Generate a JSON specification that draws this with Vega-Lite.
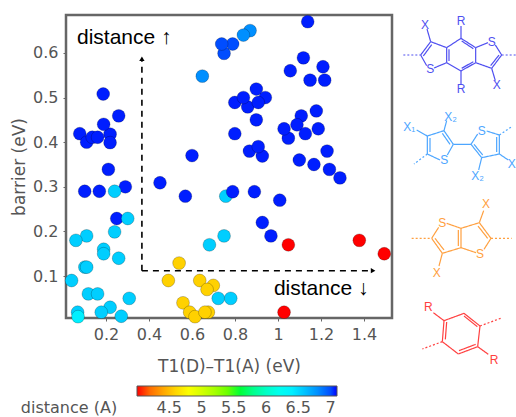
{"$schema":"https://vega.github.io/schema/vega-lite/v6.json","width":326,"height":303,"autosize":"none","padding":{"left":66,"top":15,"right":124,"bottom":99},"background":"white","config":{"view":{"stroke":"#666666","strokeWidth":2.5},"font":"DejaVu Sans"},"datasets":{"points":[{"x":0.101,"y":0.29,"d":7.08},{"x":0.169,"y":0.29,"d":7.08},{"x":0.29,"y":0.3,"d":7.08},{"x":0.25,"y":0.229,"d":7.08},{"x":0.187,"y":0.508,"d":7.08},{"x":0.078,"y":0.419,"d":7.08},{"x":0.11,"y":0.4,"d":7.08},{"x":0.219,"y":0.418,"d":7.08},{"x":0.219,"y":0.399,"d":7.08},{"x":0.136,"y":0.411,"d":7.08},{"x":0.161,"y":0.411,"d":7.08},{"x":0.189,"y":0.44,"d":7.08},{"x":0.259,"y":0.459,"d":7.08},{"x":0.211,"y":0.339,"d":7.08},{"x":0.24,"y":0.29,"d":6.55},{"x":0.301,"y":0.229,"d":6.55},{"x":0.24,"y":0.199,"d":6.55},{"x":0.11,"y":0.19,"d":6.55},{"x":0.06,"y":0.18,"d":6.55},{"x":0.189,"y":0.16,"d":6.55},{"x":0.189,"y":0.15,"d":6.55},{"x":0.259,"y":0.14,"d":6.55},{"x":0.102,"y":0.12,"d":6.55},{"x":0.11,"y":0.12,"d":6.55},{"x":0.04,"y":0.09,"d":6.55},{"x":0.118,"y":0.06,"d":6.55},{"x":0.161,"y":0.06,"d":6.55},{"x":0.308,"y":0.05,"d":6.55},{"x":0.219,"y":0.03,"d":6.55},{"x":0.178,"y":0.019,"d":6.55},{"x":0.068,"y":0.019,"d":6.55},{"x":0.07,"y":0.009,"d":6.4},{"x":0.271,"y":0.01,"d":6.55},{"x":0.54,"y":0.129,"d":4.58},{"x":0.49,"y":0.09,"d":4.58},{"x":0.558,"y":0.04,"d":4.58},{"x":0.589,"y":0.019,"d":4.58},{"x":0.614,"y":0.009,"d":4.58},{"x":0.676,"y":0.019,"d":4.58},{"x":0.66,"y":0.019,"d":4.58},{"x":0.636,"y":0.09,"d":4.58},{"x":0.699,"y":0.079,"d":4.58},{"x":0.67,"y":0.07,"d":4.58},{"x":0.722,"y":0.05,"d":6.55},{"x":0.78,"y":0.05,"d":6.55},{"x":0.681,"y":0.17,"d":6.55},{"x":0.749,"y":0.19,"d":6.55},{"x":0.757,"y":0.279,"d":6.55},{"x":0.789,"y":0.289,"d":7.08},{"x":0.89,"y":0.289,"d":7.08},{"x":1.008,"y":0.27,"d":7.08},{"x":0.927,"y":0.22,"d":7.08},{"x":0.967,"y":0.19,"d":7.08},{"x":1.048,"y":0.17,"d":4.0},{"x":1.378,"y":0.18,"d":4.0},{"x":1.494,"y":0.15,"d":4.0},{"x":1.028,"y":0.019,"d":4.0},{"x":0.451,"y":0.309,"d":7.08},{"x":0.569,"y":0.279,"d":7.08},{"x":0.6,"y":0.37,"d":7.08},{"x":0.648,"y":0.548,"d":6.8},{"x":0.749,"y":0.599,"d":7.0},{"x":0.789,"y":0.62,"d":7.0},{"x":0.738,"y":0.62,"d":7.0},{"x":0.87,"y":0.65,"d":6.8},{"x":0.839,"y":0.64,"d":6.8},{"x":1.138,"y":0.67,"d":7.08},{"x":1.118,"y":0.589,"d":7.08},{"x":1.057,"y":0.56,"d":7.08},{"x":1.209,"y":0.569,"d":7.08},{"x":1.149,"y":0.539,"d":7.08},{"x":1.217,"y":0.539,"d":7.08},{"x":0.899,"y":0.519,"d":7.08},{"x":0.941,"y":0.5,"d":7.08},{"x":0.799,"y":0.489,"d":7.08},{"x":0.859,"y":0.479,"d":7.08},{"x":0.839,"y":0.5,"d":7.08},{"x":0.908,"y":0.489,"d":7.08},{"x":0.899,"y":0.45,"d":7.08},{"x":0.799,"y":0.419,"d":7.08},{"x":1.178,"y":0.47,"d":7.08},{"x":1.108,"y":0.459,"d":7.08},{"x":1.048,"y":0.409,"d":7.08},{"x":1.028,"y":0.43,"d":7.08},{"x":1.088,"y":0.439,"d":7.08},{"x":1.187,"y":0.43,"d":7.08},{"x":1.127,"y":0.419,"d":7.08},{"x":0.927,"y":0.369,"d":7.08},{"x":0.867,"y":0.38,"d":7.08},{"x":0.908,"y":0.39,"d":7.08},{"x":1.228,"y":0.38,"d":7.08},{"x":1.099,"y":0.36,"d":7.08},{"x":1.167,"y":0.35,"d":7.08},{"x":1.239,"y":0.339,"d":7.08},{"x":1.288,"y":0.32,"d":7.08}]},"layer":[{"layer":[{"data":{"values":[{"x":0.367,"y":0.112,"x2":0.367,"y2":0.587},{"x":0.367,"y":0.112,"x2":1.442,"y2":0.112}]},"mark":{"type":"rule","color":"black","strokeWidth":1.6,"strokeDash":[6,5]},"encoding":{"x":{"field":"x","type":"quantitative","scale":{"domain":[0.014,1.53],"nice":false,"zero":false},"axis":{"values":[0.2,0.4,0.6,0.8,1,1.2,1.4],"format":"~g","grid":false,"domain":false,"tickColor":"#666666","tickSize":3,"labelFontSize":16,"labelColor":"#555555","labelFont":"DejaVu Sans","labelPadding":5,"title":"T1(D)–T1(A) (eV)","titleFontSize":17,"titleFontWeight":"normal","titleColor":"#555555","titleFont":"DejaVu Sans","titlePadding":16}},"x2":{"field":"x2"},"y":{"field":"y","type":"quantitative","scale":{"domain":[0.006,0.685],"nice":false,"zero":false},"axis":{"values":[0.1,0.2,0.3,0.4,0.5,0.6],"format":"~g","grid":false,"domain":false,"tickColor":"#666666","tickSize":3,"labelFontSize":16,"labelColor":"#555555","labelFont":"DejaVu Sans","labelPadding":5,"title":"barrier (eV)","titleFontSize":17,"titleFontWeight":"normal","titleColor":"#555555","titleFont":"DejaVu Sans","titlePadding":4}},"y2":{"field":"y2"}}},{"data":{"values":[{"x":0.367,"y":0.587,"s":"triangle-up"},{"x":1.442,"y":0.112,"s":"triangle-right"}]},"mark":{"type":"point","filled":true,"color":"black","size":28,"opacity":1},"encoding":{"x":{"field":"x","type":"quantitative"},"y":{"field":"y","type":"quantitative"},"shape":{"field":"s","type":"nominal","scale":null}}},{"data":{"name":"points"},"mark":{"type":"circle","size":165,"opacity":1,"stroke":"#000000","strokeOpacity":0.22,"strokeWidth":1},"encoding":{"x":{"field":"x","type":"quantitative"},"y":{"field":"y","type":"quantitative"},"color":{"field":"d","type":"quantitative","scale":{"domain":[4,7.1],"range":["#ff0000","#ffff00","#00ff00","#00ffff","#0000ff"]},"legend":{"orient":"none","legendX":71,"legendY":371,"direction":"horizontal","gradientLength":200,"gradientThickness":10,"gradientStrokeColor":"#555555","gradientStrokeWidth":1,"values":[4.5,5,5.5,6,6.5,7],"labelExpr":"datum.value + ''","labelFontSize":16,"labelColor":"#555555","labelFont":"DejaVu Sans","labelOverlap":false,"labelOffset":4,"title":null}}}},{"data":{"values":[{"x":0.065,"y":0.634,"t":"distance ↑"},{"x":0.981,"y":0.071,"t":"distance ↓"}]},"mark":{"type":"text","font":"Liberation Sans","fontSize":21,"align":"left","baseline":"middle","color":"black"},"encoding":{"x":{"field":"x","type":"quantitative"},"y":{"field":"y","type":"quantitative"},"text":{"field":"t"}}}]},{"layer":[{"data":{"values":[{"m":"a","k":"dot","u":40,"v":165,"u2":92,"v2":165},{"m":"a","k":"dot","u":335,"v":165,"u2":380,"v2":165},{"m":"a","k":"bond","u":92,"v":165,"u2":122,"v2":125},{"m":"a","k":"bond","u":100,"v":168,"u2":125,"v2":134},{"m":"a","k":"bond","u":122,"v":125,"u2":170,"v2":143},{"m":"a","k":"bond","u":170,"v":143,"u2":170,"v2":188},{"m":"a","k":"bond","u":177,"v":148,"u2":177,"v2":183},{"m":"a","k":"bond","u":170,"v":188,"u2":132,"v2":204},{"m":"a","k":"bond","u":110,"v":197,"u2":92,"v2":165},{"m":"a","k":"bond","u":170,"v":143,"u2":213,"v2":115},{"m":"a","k":"bond","u":213,"v":115,"u2":257,"v2":143},{"m":"a","k":"bond","u":215,"v":123,"u2":250,"v2":146},{"m":"a","k":"bond","u":257,"v":143,"u2":257,"v2":188},{"m":"a","k":"bond","u":257,"v":188,"u2":213,"v2":213},{"m":"a","k":"bond","u":250,"v":185,"u2":215,"v2":205},{"m":"a","k":"bond","u":213,"v":213,"u2":170,"v2":188},{"m":"a","k":"bond","u":257,"v":143,"u2":294,"v2":128},{"m":"a","k":"bond","u":316,"v":135,"u2":335,"v2":165},{"m":"a","k":"bond","u":335,"v":165,"u2":305,"v2":205},{"m":"a","k":"bond","u":327,"v":165,"u2":302,"v2":197},{"m":"a","k":"bond","u":305,"v":205,"u2":257,"v2":188},{"m":"a","k":"bond","u":122,"v":125,"u2":111,"v2":87},{"m":"a","k":"bond","u":213,"v":115,"u2":213,"v2":78},{"m":"a","k":"bond","u":213,"v":213,"u2":213,"v2":252},{"m":"a","k":"bond","u":305,"v":205,"u2":316,"v2":242},{"m":"b","k":"dot","u":112,"v":462,"u2":72,"v2":492},{"m":"b","k":"dot","u":328,"v":405,"u2":368,"v2":378},{"m":"b","k":"bond","u":112,"v":408,"u2":162,"v2":392},{"m":"b","k":"bond","u":162,"v":392,"u2":190,"v2":433},{"m":"b","k":"bond","u":157,"v":400,"u2":180,"v2":433},{"m":"b","k":"bond","u":190,"v":433,"u2":172,"v2":465},{"m":"b","k":"bond","u":150,"v":480,"u2":112,"v2":462},{"m":"b","k":"bond","u":112,"v":462,"u2":112,"v2":408},{"m":"b","k":"bond","u":120,"v":456,"u2":120,"v2":414},{"m":"b","k":"bond","u":190,"v":433,"u2":243,"v2":433},{"m":"b","k":"bond","u":243,"v":433,"u2":263,"v2":402},{"m":"b","k":"bond","u":290,"v":393,"u2":328,"v2":405},{"m":"b","k":"bond","u":328,"v":405,"u2":328,"v2":462},{"m":"b","k":"bond","u":320,"v":411,"u2":320,"v2":456},{"m":"b","k":"bond","u":328,"v":462,"u2":275,"v2":473},{"m":"b","k":"bond","u":275,"v":473,"u2":243,"v2":433},{"m":"b","k":"bond","u":278,"v":465,"u2":252,"v2":433},{"m":"b","k":"bond","u":80,"v":390,"u2":112,"v2":408},{"m":"b","k":"bond","u":170,"v":362,"u2":162,"v2":392},{"m":"b","k":"bond","u":328,"v":462,"u2":355,"v2":480},{"m":"b","k":"bond","u":275,"v":473,"u2":266,"v2":510},{"m":"c","k":"dot","u":65,"v":715,"u2":125,"v2":715},{"m":"c","k":"dot","u":303,"v":715,"u2":365,"v2":715},{"m":"c","k":"bond","u":125,"v":715,"u2":146,"v2":682},{"m":"c","k":"bond","u":170,"v":670,"u2":213,"v2":685},{"m":"c","k":"bond","u":213,"v":685,"u2":213,"v2":743},{"m":"c","k":"bond","u":205,"v":690,"u2":205,"v2":738},{"m":"c","k":"bond","u":213,"v":743,"u2":157,"v2":760},{"m":"c","k":"bond","u":157,"v":760,"u2":125,"v2":715},{"m":"c","k":"bond","u":162,"v":750,"u2":135,"v2":715},{"m":"c","k":"bond","u":213,"v":685,"u2":268,"v2":668},{"m":"c","k":"bond","u":268,"v":668,"u2":303,"v2":715},{"m":"c","k":"bond","u":264,"v":678,"u2":293,"v2":715},{"m":"c","k":"bond","u":303,"v":715,"u2":282,"v2":748},{"m":"c","k":"bond","u":258,"v":758,"u2":213,"v2":743},{"m":"c","k":"bond","u":268,"v":668,"u2":281,"v2":632},{"m":"c","k":"bond","u":157,"v":760,"u2":147,"v2":798},{"m":"d","k":"dot","u":270,"v":978,"u2":332,"v2":955},{"m":"d","k":"dot","u":157,"v":1025,"u2":97,"v2":1047},{"m":"d","k":"bond","u":162,"v":962,"u2":222,"v2":940},{"m":"d","k":"bond","u":222,"v":940,"u2":270,"v2":978},{"m":"d","k":"bond","u":222,"v":948,"u2":262,"v2":980},{"m":"d","k":"bond","u":270,"v":978,"u2":263,"v2":1040},{"m":"d","k":"bond","u":263,"v":1040,"u2":205,"v2":1062},{"m":"d","k":"bond","u":257,"v":1033,"u2":207,"v2":1052},{"m":"d","k":"bond","u":205,"v":1062,"u2":157,"v2":1025},{"m":"d","k":"bond","u":157,"v":1025,"u2":162,"v2":962},{"m":"d","k":"bond","u":166,"v":1018,"u2":170,"v2":966},{"m":"d","k":"bond","u":162,"v":962,"u2":130,"v2":938},{"m":"d","k":"bond","u":263,"v":1040,"u2":295,"v2":1063}]},"mark":{"type":"rule","strokeWidth":1.2},"encoding":{"x":{"field":"u","type":"quantitative","scale":{"domain":[-972,6],"nice":false,"zero":false},"axis":null},"x2":{"field":"u2"},"y":{"field":"v","type":"quantitative","scale":{"domain":[954,45],"nice":false,"zero":false},"axis":null},"y2":{"field":"v2"},"color":{"field":"m","type":"nominal","scale":{"domain":["a","b","c","d"],"range":["#4f4ff0","#4da6ff","#ffa040","#ff4040"]},"legend":null},"strokeDash":{"field":"k","type":"nominal","scale":{"domain":["bond","dot"],"range":[[1,0],[2,2]]},"legend":null}}},{"data":{"values":[{"m":"a","t":"S","u":121,"v":207},{"m":"a","t":"S","u":305,"v":125},{"m":"a","t":"X","u":105,"v":75},{"m":"a","t":"R","u":213,"v":63},{"m":"a","t":"R","u":213,"v":267},{"m":"a","t":"X","u":320,"v":255},{"m":"b","t":"S","u":163,"v":480},{"m":"b","t":"S","u":275,"v":393},{"m":"b","t":"X₁","u":58,"v":381},{"m":"b","t":"X₂","u":182,"v":350},{"m":"b","t":"X","u":365,"v":492},{"m":"b","t":"X₂","u":263,"v":527},{"m":"c","t":"S","u":157,"v":668},{"m":"c","t":"S","u":270,"v":763},{"m":"c","t":"X","u":288,"v":612},{"m":"c","t":"X","u":140,"v":818},{"m":"d","t":"R","u":115,"v":922},{"m":"d","t":"R","u":312,"v":1080}]},"mark":{"type":"text","font":"Liberation Sans","fontSize":12,"align":"center","baseline":"middle"},"encoding":{"x":{"field":"u","type":"quantitative"},"y":{"field":"v","type":"quantitative"},"text":{"field":"t"},"color":{"field":"m","type":"nominal","legend":null}}},{"data":{"values":[{"u":-963,"v":1224,"t":"distance (A)"}]},"mark":{"type":"text","font":"DejaVu Sans","fontSize":16,"align":"center","baseline":"middle","color":"#555555"},"encoding":{"x":{"field":"u","type":"quantitative"},"y":{"field":"v","type":"quantitative"},"text":{"field":"t"}}}]}],"resolve":{"scale":{"x":"independent","y":"independent","color":"independent"}}}
